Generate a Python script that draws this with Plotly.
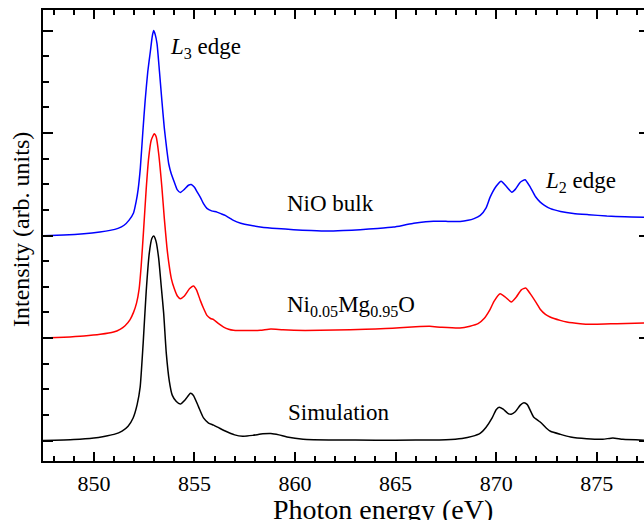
import plotly.graph_objects as go

# ---- data (photon energy in eV, normalized intensity with offsets) ----
nio_x = [847.47, 848.5, 849.5, 850.3, 850.8, 851.2, 851.5, 851.75, 851.97, 852.1,
         852.2, 852.31, 852.43, 852.55, 852.68, 852.81, 852.9, 852.97, 853.05, 853.14,
         853.26, 853.38, 853.5, 853.63, 853.72, 853.85, 854.0, 854.15, 854.3, 854.5,
         854.7, 854.84, 855.0, 855.15, 855.3, 855.45, 855.62, 855.85, 856.12, 856.35,
         856.53, 856.75, 856.94, 857.3, 857.77, 858.27, 859.1, 859.93, 860.8, 861.59,
         862.4, 863.24, 864.1, 864.9, 865.4, 865.9, 866.5, 866.88, 867.5, 868.21,
         868.6, 868.9, 869.21, 869.5, 869.7, 870.0, 870.25, 870.5, 870.78, 870.95,
         871.2, 871.44, 871.7, 871.95, 872.19, 872.4, 872.7, 873.2, 873.84, 874.6,
         875.5, 876.4, 877.35]
nio_y = [1.998, 2.005, 2.018, 2.035, 2.050, 2.070, 2.100, 2.150, 2.220, 2.330,
         2.450, 2.660, 3.000, 3.320, 3.600, 3.800, 3.940, 3.999, 3.960, 3.870,
         3.600, 3.317, 3.050, 2.830, 2.700, 2.600, 2.520, 2.445, 2.420, 2.450,
         2.490, 2.498, 2.470, 2.420, 2.370, 2.310, 2.264, 2.240, 2.228, 2.210,
         2.196, 2.170, 2.147, 2.120, 2.099, 2.084, 2.068, 2.057, 2.048, 2.043,
         2.048, 2.057, 2.068, 2.082, 2.100, 2.120, 2.135, 2.140, 2.138, 2.137,
         2.148, 2.165, 2.196, 2.270, 2.374, 2.480, 2.530, 2.480, 2.423, 2.450,
         2.520, 2.544, 2.470, 2.380, 2.326, 2.295, 2.262, 2.235, 2.215, 2.203,
         2.190, 2.182, 2.179]

mix_x = [847.47, 848.5, 849.5, 850.32, 850.98, 851.3, 851.55, 851.8, 851.97, 852.12,
         852.25, 852.35, 852.47, 852.6, 852.72, 852.85, 853.0, 853.1, 853.22, 853.38,
         853.5, 853.63, 853.72, 853.85, 854.0, 854.15, 854.3, 854.5, 854.75, 854.95,
         855.1, 855.29, 855.45, 855.62, 855.8, 855.95, 856.2, 856.45, 856.7, 856.94,
         857.6, 858.27, 858.8, 859.4, 860.5, 862.0, 863.5, 864.5, 865.2, 866.0,
         866.7, 867.3, 868.2, 868.7, 869.1, 869.4, 869.7, 869.9, 870.2, 870.45,
         870.75, 871.0, 871.25, 871.47, 871.7, 872.02, 872.19, 872.45, 872.68, 873.18,
         873.51, 874.18, 874.67, 875.4, 876.0, 877.36]
mix_y = [1.000, 1.008, 1.020, 1.036, 1.058, 1.085, 1.120, 1.180, 1.250, 1.340,
         1.480, 1.700, 2.050, 2.450, 2.750, 2.930, 2.992, 2.960, 2.800, 2.472,
         2.170, 1.887, 1.740, 1.580, 1.480, 1.410, 1.384, 1.410, 1.480, 1.507,
         1.470, 1.367, 1.290, 1.221, 1.190, 1.179, 1.140, 1.107, 1.085, 1.075,
         1.072, 1.075, 1.088, 1.080, 1.074, 1.078, 1.085, 1.092, 1.100, 1.110,
         1.114, 1.104, 1.097, 1.115, 1.140, 1.190, 1.280, 1.360, 1.431, 1.400,
         1.351, 1.400, 1.470, 1.487, 1.430, 1.335, 1.280, 1.230, 1.205, 1.172,
         1.156, 1.140, 1.134, 1.136, 1.140, 1.146]

sim_x = [847.47, 849.0, 850.0, 850.5, 851.0, 851.4, 851.7, 851.95, 852.15, 852.3,
         852.45, 852.6, 852.75, 852.88, 852.97, 853.08, 853.22, 853.35, 853.47, 853.6,
         853.75, 853.9, 854.1, 854.3, 854.55, 854.8, 854.95, 855.2, 855.45, 855.7,
         855.95, 856.2, 856.5, 857.0, 857.4, 857.9, 858.4, 858.8, 859.2, 859.6,
         860.4, 862.0, 864.0, 866.0, 867.5, 868.3, 868.8, 869.2, 869.5, 869.8,
         870.0, 870.15, 870.35, 870.6, 870.75, 870.95, 871.2, 871.38, 871.55, 871.86,
         872.19, 872.5, 872.7, 873.2, 873.7, 874.5, 875.3, 875.8, 876.3, 877.36]
sim_y = [0.000, 0.010, 0.025, 0.040, 0.060, 0.092, 0.140, 0.220, 0.350, 0.520,
         0.950, 1.450, 1.820, 1.970, 1.994, 1.950, 1.780, 1.500, 1.240, 0.850,
         0.580, 0.440, 0.380, 0.355, 0.400, 0.460, 0.440, 0.330, 0.220, 0.170,
         0.150, 0.125, 0.095, 0.055, 0.042, 0.050, 0.065, 0.068, 0.055, 0.035,
         0.013, 0.005, 0.003, 0.004, 0.008, 0.020, 0.040, 0.070, 0.130, 0.220,
         0.300, 0.325, 0.305, 0.262, 0.256, 0.280, 0.345, 0.368, 0.350, 0.230,
         0.180, 0.120, 0.090, 0.060, 0.035, 0.018, 0.012, 0.025, 0.012, 0.003]

x_ticks = [850, 855, 860, 865, 870, 875]

series = [("NiO bulk", nio_x, nio_y, "#0000ff"),
          ("Ni0.05Mg0.95O", mix_x, mix_y, "#ff0000"),
          ("Simulation", sim_x, sim_y, "#000000")]

FONT = "Liberation Serif"
XR = [847.47, 877.35]
YR = [-0.2, 4.2]

fig = go.Figure()
for name, xs, ys, col in series:
    fig.add_trace(go.Scatter(x=xs, y=ys, mode="lines", name=name,
                             line=dict(color=col, width=1.5, shape="spline", smoothing=0.5),
                             showlegend=False, hoverinfo="skip"))
# invisible traces for the helper axes (right-hand ticks, bottom tick labels)
fig.add_trace(go.Scatter(x=[860], y=[0], yaxis="y2", mode="markers",
                         marker=dict(opacity=0), showlegend=False, hoverinfo="skip"))
fig.add_trace(go.Scatter(x=[860], y=[0], xaxis="x2", mode="markers",
                         marker=dict(opacity=0), showlegend=False, hoverinfo="skip"))

labels = [
    (853.70, 3.83, "<i>L</i><sub>3</sub> edge"),
    (859.51, 2.31, "NiO bulk"),
    (859.51, 1.31, "Ni<sub>0.05</sub>Mg<sub>0.95</sub>O"),
    (859.55, 0.27, "Simulation"),
    (872.32, 2.52, "<i>L</i><sub>2</sub> edge"),
]
for x, y, t in labels:
    fig.add_annotation(x=x, y=y, text=t, showarrow=False, xanchor="left", yanchor="middle",
                       font=dict(family=FONT, size=23, color="black"))

fig.add_annotation(x=(382.5 - 43) / 601, y=-0.108, xref="paper", yref="paper",
                   text="Photon energy (eV)",
                   showarrow=False, xanchor="center", yanchor="middle",
                   font=dict(family=FONT, size=28, color="black"))
fig.add_annotation(x=(21 - 43) / 601, y=(461 - 230) / 451, xref="paper", yref="paper",
                   text="Intensity (arb. units)",
                   textangle=-90, showarrow=False, xanchor="center", yanchor="middle",
                   font=dict(family=FONT, size=24, color="black"))

fig.update_layout(
    width=644, height=520,
    margin=dict(l=43, r=0, t=10, b=59),
    paper_bgcolor="white", plot_bgcolor="white",
    font=dict(family=FONT, size=22, color="black"),
    xaxis=dict(range=XR, tickmode="array", tickvals=x_ticks, showticklabels=False,
               ticks="inside", ticklen=9, tickwidth=1.5, tickcolor="black",
               showline=True, linewidth=2, linecolor="black", mirror="ticks",
               showgrid=False, zeroline=False,
               minor=dict(dtick=1, tick0=850, ticks="inside", ticklen=5, tickwidth=1.5,
                          tickcolor="black", showgrid=False)),
    xaxis2=dict(range=XR, overlaying="x", anchor="y", side="bottom",
                tickmode="array", tickvals=x_ticks, ticktext=[str(v) for v in x_ticks],
                ticks="outside", ticklen=3, tickcolor="rgba(0,0,0,0)",
                showline=False, showgrid=False, zeroline=False,
                tickfont=dict(family=FONT, size=22, color="black")),
    yaxis=dict(range=YR, tickmode="linear", tick0=0, dtick=1,
               ticks="inside", ticklen=10, tickwidth=1.5, tickcolor="black",
               showline=True, linewidth=2, linecolor="black", mirror=False,
               showgrid=False, zeroline=False, showticklabels=False,
               minor=dict(dtick=0.25, ticks="inside", ticklen=5.5, tickwidth=1.5,
                          tickcolor="black", showgrid=False)),
    yaxis2=dict(range=YR, overlaying="y", side="right", tickmode="linear", tick0=0,
                dtick=1, ticks="inside", ticklen=5, tickwidth=1.5, tickcolor="black",
                showline=False, showgrid=False, zeroline=False, showticklabels=False),
)

fig.write_html("out.html")
